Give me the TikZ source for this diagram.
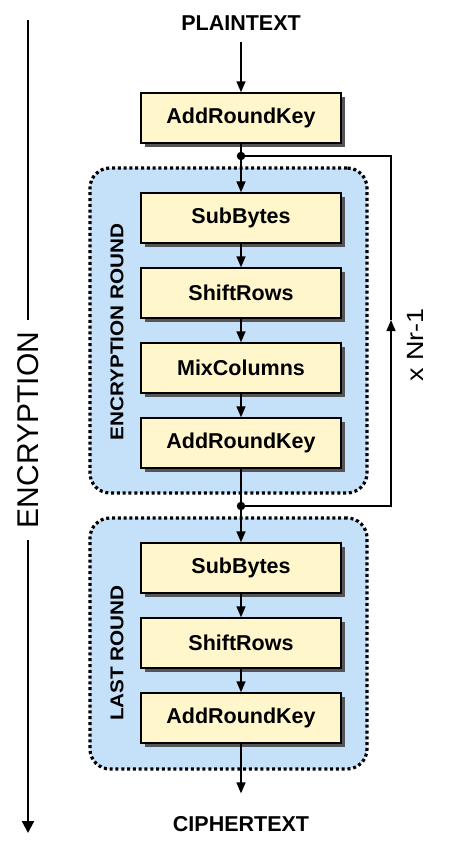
\documentclass[tikz,border=0pt]{standalone}
\usepackage{fontspec}
\setmainfont{Liberation Sans}
\usetikzlibrary{arrows.meta,shadows}

\definecolor{KY}{HTML}{FFF6CC}
\definecolor{RB}{HTML}{C5E1FA}
\definecolor{SH}{HTML}{555555}

\begin{document}
\begin{tikzpicture}[x=1pt, y=-1pt, >={Triangle[length=11pt,width=9pt]},
    stage/.style={draw, line width=1.4pt, fill=KY, minimum width=200pt, minimum height=50pt,
        font=\fontsize{21.5}{26}\selectfont\bfseries,
        drop shadow={shadow xshift=4pt, shadow yshift=-4pt, fill=SH, opacity=1}},
    round/.style={draw, line width=3.2pt, dash pattern=on 3pt off 2.8pt, fill=RB,
        rounded corners=20pt, inner sep=0pt},
    roundlabel/.style={rotate=90, font=\fontsize{18.5}{22}\selectfont\bfseries},
    io/.style={font=\fontsize{21.5}{26}\selectfont\bfseries, inner sep=0pt, outer sep=12pt},
    dot/.style={circle, fill, inner sep=0pt, minimum size=8.5pt},
    flow/.style={line width=1.6pt}]
    \useasboundingbox (0,0) rectangle (456,859);
    % round backgrounds
    \node[round, minimum width=277pt, minimum height=325pt] (ER) at (228.5,330.5) {};
    \node[round, minimum width=277pt, minimum height=251pt] (LR) at (228.5,643.5) {};
    \node[roundlabel] (ERL) at (117,332) {\scalebox{1.12}[1]{ENCRYPTION ROUND}};
    \node[roundlabel] (LRL) at (117,653) {\scalebox{1.12}[1]{LAST ROUND}};
    % stages
    \node[io] (PT) at (241,23) {PLAINTEXT};
    \node[stage] (K0) at (241,118) {AddRoundKey};
    \node[stage] (S1) at (241,218) {SubBytes};
    \node[stage] (R1) at (241,293) {ShiftRows};
    \node[stage] (M1) at (241,368) {MixColumns};
    \node[stage] (K1) at (241,443) {AddRoundKey};
    \node[stage] (S2) at (241,568) {SubBytes};
    \node[stage] (R2) at (241,643) {ShiftRows};
    \node[stage] (K2) at (241,718) {AddRoundKey};
    \node[io, outer sep=23pt] (CT) at (241,824) {CIPHERTEXT};
    \node[dot] (D1) at (241,156) {};
    \node[dot] (D2) at (241,506) {};
    \draw[flow,->] (PT) -- (K0);
    \draw[flow] (K0) -- (D1);
    \draw[flow,->] (D1) -- (S1);
    \draw[flow,->] (S1) -- (R1);
    \draw[flow,->] (R1) -- (M1);
    \draw[flow,->] (M1) -- (K1);
    \draw[flow] (K1) -- (D2);
    \draw[flow,->] (D2) -- (S2);
    \draw[flow,->] (S2) -- (R2);
    \draw[flow,->] (R2) -- (K2);
    \draw[flow,->] (K2) -- (CT);
    % loop back
    \coordinate (LB) at (391,506);
    \coordinate (LA) at (391,320);
    \coordinate (LT) at (391,156);
    \draw[line width=1.3pt,->] (D2.center) -- (LB) -- (LA);
    \draw[line width=1.3pt] (LA) -- (LT) -- (D1.center);
    \node[rotate=90, font=\fontsize{23.5}{28}\selectfont] (NR) at (415,345) {\scalebox{1.15}[1]{x Nr-1}};
    % encryption direction
    \node[rotate=90, font=\fontsize{30}{36}\selectfont, inner xsep=12pt] (EN) at (28,430) {ENCRYPTION};
    \coordinate (ET) at (28,20);
    \coordinate (EB) at (28,833);
    \draw[line width=2.2pt] (ET) -- (EN);
    \draw[line width=2.2pt,-{Triangle[length=12pt,width=12pt]}] (EN) -- (EB);
\end{tikzpicture}
\end{document}
